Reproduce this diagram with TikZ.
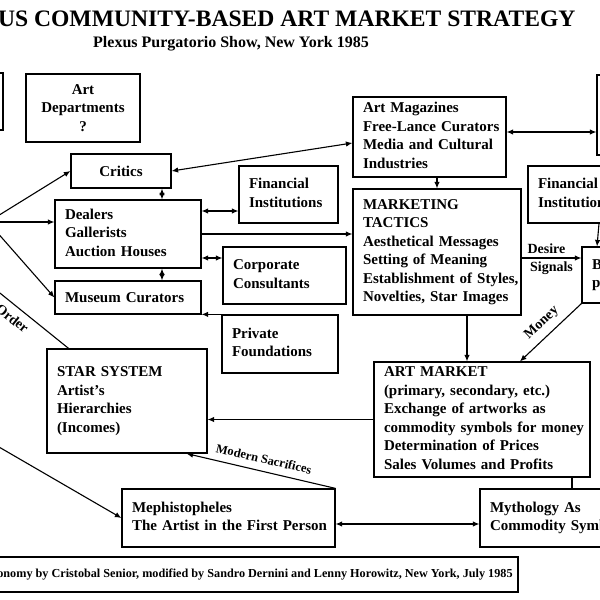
\documentclass[tikz,border=0pt]{standalone}
\usepackage{fontspec}
\setmainfont{Liberation Serif}
\usetikzlibrary{positioning}
\usetikzlibrary{calc}
\usetikzlibrary{arrows.meta}

\newcommand{\panelfont}{\fontsize{15}{18.5}\selectfont\bfseries}
\newcommand{\tagfont}{\fontsize{14}{16}\selectfont\bfseries}
\newcommand{\smalltagfont}{\fontsize{12.5}{14}\selectfont\bfseries}
\newcommand{\titlefont}{\fontsize{23.6}{26}\selectfont\bfseries}
\newcommand{\subtitlefont}{\fontsize{16}{18}\selectfont\bfseries}
\newcommand{\footfont}{\fontsize{12.2}{14}\selectfont\bfseries}

\begin{document}
\begin{tikzpicture}[x=1pt, y=-1pt, >={Latex[length=6.5pt,width=5.5pt]},
    every node/.style={font=\panelfont},
    panel/.style={draw, line width=1.2pt, inner xsep=10pt, inner ysep=0pt, align=left},
    plain/.style={draw, line width=1.2pt, inner sep=0pt, align=center},
    link/.style={line width=1.1pt}]

        \useasboundingbox (0,0) rectangle (600,600);
        \clip (0,0) rectangle (600,600);

        % Titles
        \node[anchor=east, font=\titlefont] (title) at (579,19) {US COMMUNITY-BASED ART MARKET STRATEGY};
        \node[font=\subtitlefont] (subtitle) at (231,44) {Plexus Purgatorio Show, New York 1985};

        % Left column
        \node[plain, minimum width=63pt, minimum height=57pt] (leftBox) at (-28.5,101.5) {};
        \node[plain, minimum width=114pt, minimum height=68pt] (artDeptBox) at (83,108) {Art\\Departments\\?};
        \node[plain, minimum width=100pt, minimum height=34pt] (criticsBox) at (121,171) {Critics};
        \node[panel, text width=126pt, minimum height=68pt] (dealersBox) at (128,234) {%
            \begin{tabular}{@{}l@{}}
                Dealers \\
                Gallerists \\
                Auction Houses \\
            \end{tabular}
        };
        \node[panel, text width=126pt, minimum height=33pt] (museumBox) at (128,297.5) {Museum Curators};
        \node[panel, text width=140pt, minimum height=104pt] (starBox) at (127,401) {%
            \begin{tabular}{@{}l@{}}
                STAR SYSTEM \\
                Artist's \\
                Hierarchies \\
                (Incomes) \\
            \end{tabular}
        };

        % Middle column
        \node[panel, text width=79pt, minimum height=57pt] (finBox) at (288.5,194.5) {%
            \begin{tabular}{@{}l@{}}
                Financial \\
                Institutions \\
            \end{tabular}
        };
        \node[panel, text width=103pt, minimum height=57pt] (corpBox) at (284.5,275.5) {%
            \begin{tabular}{@{}l@{}}
                Corporate \\
                Consultants \\
            \end{tabular}
        };
        \node[panel, text width=96pt, minimum height=58pt] (privateBox) at (280,344) {%
            \begin{tabular}{@{}l@{}}
                Private \\
                Foundations \\
            \end{tabular}
        };
        \node[panel, text width=193pt, minimum height=58pt] (mephistoBox) at (228.5,518) {%
            \begin{tabular}{@{}l@{}}
                Mephistopheles \\
                The Artist in the First Person \\
            \end{tabular}
        };

        % Right column
        \node[panel, text width=133pt, minimum height=80pt] (magazinesBox) at (429.5,137) {%
            \begin{tabular}{@{}l@{}}
                Art Magazines \\
                Free-Lance Curators \\
                Media and Cultural \\
                Industries \\
            \end{tabular}
        };
        \node[panel, text width=148pt, minimum height=126pt] (tacticsBox) at (437,252) {%
            \begin{tabular}{@{}l@{}}
                MARKETING \\
                TACTICS \\
                Aesthetical Messages \\
                Setting of Meaning \\
                Establishment of Styles, \\
                Novelties, Star Images \\
            \end{tabular}
        };
        \node[plain, minimum width=83pt, minimum height=80pt] (topRightBox) at (638.5,115) {};
        \node[panel, text width=92pt, minimum height=57pt] (finRightBox) at (584,194.5) {%
            \begin{tabular}{@{}l@{}}
                Financial \\
                Institutions \\
            \end{tabular}
        };
        \node[panel, text width=38pt, minimum height=56pt] (buyersBox) at (611,275) {%
            \begin{tabular}{@{}l@{}}
                B \\
                p \\
            \end{tabular}
        };
        \node[panel, text width=196pt, minimum height=115pt] (marketBox) at (482,419.5) {%
            \begin{tabular}{@{}l@{}}
                ART MARKET \\
                (primary, secondary, etc.) \\
                Exchange of artworks as \\
                commodity symbols for money \\
                Determination of Prices \\
                Sales Volumes and Profits \\
            \end{tabular}
        };
        \node[panel, text width=140pt, minimum height=58pt] (mythBox) at (560,518) {%
            \begin{tabular}{@{}l@{}}
                Mythology As \\
                Commodity Symbols \\
            \end{tabular}
        };

        % Footer
        \node[plain, minimum width=526pt, minimum height=35pt, font=\footfont] (footBox) at (255,574.5)
            {onomy by Cristobal Senior, modified by Sandro Dernini and Lenny Horowitz, New York, July 1985};

        % Loose ends coming in from the left
        \coordinate (hub) at (-12,222);
        \coordinate (orderStart) at (-20,277);
        \coordinate (mephStart) at (-20,436);

        \draw[link, ->] (hub) -- (criticsBox.west);
        \draw[link, ->] (hub) -- (hub -| dealersBox.west);
        \draw[link, ->] (hub) -- (museumBox.west);
        \draw[link] (orderStart) -- node[sloped, below=3pt, pos=0.45, font=\tagfont] {Order} (starBox.138);
        \draw[link, ->] (mephStart) -- (mephistoBox.west);

        % Connectors
        \draw[link, <->] (criticsBox.east) -- ([yshift=-6pt]magazinesBox.west);
        \draw[link, <->] ([xshift=41pt]criticsBox.south) -- ([xshift=41pt]criticsBox.south |- dealersBox.north);
        \draw[link, <->] ([yshift=23pt]dealersBox.east) -- ([yshift=23pt]dealersBox.east -| finBox.west);
        \draw[link, ->] (dealersBox.east) -- (dealersBox.east -| tacticsBox.west);
        \draw[link, <->] ([yshift=-24pt]dealersBox.east) -- ([yshift=-24pt]dealersBox.east -| corpBox.west);
        \draw[link, <->] ([xshift=34pt]dealersBox.south) -- ([xshift=34pt]dealersBox.south |- museumBox.north);
        \draw[link, ->] (privateBox.north west) -- (privateBox.north west -| museumBox.east);
        \draw[link, ->] ([xshift=7.5pt]magazinesBox.south) -- ([xshift=7.5pt]magazinesBox.south |- tacticsBox.north);
        \draw[link, <->] ([yshift=5pt]magazinesBox.east) -- ([yshift=5pt]magazinesBox.east -| topRightBox.west);
        \draw[link, ->] ([yshift=-6pt]tacticsBox.east) --
            node[above, xshift=-5pt, font=\tagfont] {Desire}
            node[below, font=\tagfont] {Signals}
            ([yshift=-6pt]tacticsBox.east -| buyersBox.west);
        \draw[link, ->] ([xshift=15pt]finRightBox.south) -- ([xshift=-14pt]buyersBox.north);
        \draw[link, ->] (buyersBox.south west) -- node[sloped, above=3pt, font=\tagfont] {Money} ([xshift=38pt]marketBox.north);
        \draw[link, ->] ([xshift=30pt]tacticsBox.south) -- ([xshift=30pt]tacticsBox.south |- marketBox.north);
        \draw[link, ->] (marketBox.west) -- (marketBox.west -| starBox.east);
        \draw[link, ->] (mephistoBox.north east) -- node[sloped, above=4pt, font=\smalltagfont] {Modern Sacrifices} ([xshift=-21pt]starBox.south east);
        \draw[link] ([xshift=90pt]marketBox.south) -- ([xshift=90pt]marketBox.south |- mythBox.north);
        \draw[link, <->] ([yshift=-6pt]mephistoBox.east) -- ([yshift=-6pt]mephistoBox.east -| mythBox.west);

\end{tikzpicture}
\end{document}
